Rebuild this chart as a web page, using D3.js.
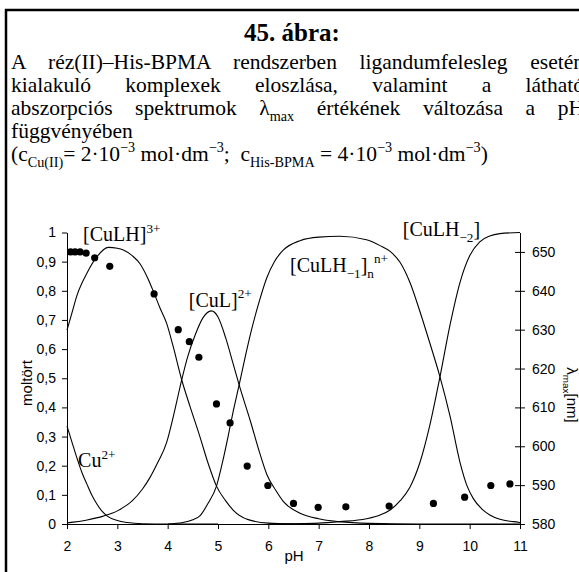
<!DOCTYPE html>
<html>
<head>
<meta charset="utf-8">
<script src="https://cdn.jsdelivr.net/npm/d3@7"></script>
<style>
  body { margin: 0; background: #fff; }
  svg { display: block; }
  text { white-space: pre; }
</style>
</head>
<body>
<svg id="chart" width="579" height="572"></svg>
<script>
// ---- axis ticks ----
const phTicks = [2, 3, 4, 5, 6, 7, 8, 9, 10, 11];
const fracTicks = [0, 0.1, 0.2, 0.3, 0.4, 0.5, 0.6, 0.7, 0.8, 0.9, 1];
const lambdaTicks = [580, 590, 600, 610, 620, 630, 640, 650];

// ---- species distribution (mole fraction vs pH) ----
const cuFreePH   = [2.0, 2.1, 2.2, 2.3, 2.4, 2.5, 2.6, 2.7, 2.8, 3.0, 3.2, 3.5, 4.0, 5.0];
const cuFreeFrac = [0.336, 0.28, 0.225, 0.175, 0.135, 0.097, 0.067, 0.043, 0.027, 0.012, 0.005, 0.001, 0, 0];

const cuLHPH   = [2.0, 2.1, 2.2, 2.4, 2.6, 2.82, 3.0, 3.12, 3.3, 3.45, 3.6, 3.73, 3.85, 3.98, 4.1, 4.28, 4.45, 4.64, 4.8, 4.97, 5.15, 5.3, 5.6, 6.0, 6.5];
const cuLHFrac = [0.665, 0.725, 0.785, 0.862, 0.918, 0.949, 0.946, 0.94, 0.92, 0.893, 0.845, 0.792, 0.74, 0.688, 0.615, 0.494, 0.4, 0.3, 0.21, 0.13, 0.08, 0.048, 0.015, 0.003, 0];

const cuLPH   = [2.0, 2.4, 2.72, 3.0, 3.3, 3.5, 3.65, 3.8, 3.98, 4.1, 4.18, 4.28, 4.4, 4.55, 4.7, 4.87, 5.0, 5.15, 5.3, 5.42, 5.64, 5.83, 5.97, 6.15, 6.3, 6.63, 7.0, 7.4, 8.0, 9.0, 11.0];
const cuLFrac = [0.004, 0.014, 0.027, 0.045, 0.08, 0.12, 0.16, 0.21, 0.28, 0.36, 0.42, 0.495, 0.575, 0.65, 0.707, 0.731, 0.71, 0.64, 0.55, 0.477, 0.355, 0.243, 0.17, 0.115, 0.077, 0.037, 0.018, 0.008, 0.002, 0, 0];

const cuLHm1PH   = [4.0, 4.3, 4.5, 4.65, 4.8, 4.97, 5.1, 5.2, 5.3, 5.42, 5.53, 5.64, 5.83, 5.97, 6.12, 6.3, 6.63, 7.0, 7.42, 7.95, 8.22, 8.42, 8.62, 8.81, 9.01, 9.21, 9.41, 9.61, 9.81, 9.95, 10.07, 10.25, 10.4, 10.6, 10.87, 11.0];
const cuLHm1Frac = [0, 0.005, 0.015, 0.03, 0.07, 0.13, 0.22, 0.3, 0.385, 0.477, 0.565, 0.648, 0.77, 0.845, 0.9, 0.94, 0.972, 0.984, 0.987, 0.975, 0.955, 0.935, 0.897, 0.83, 0.73, 0.62, 0.505, 0.37, 0.21, 0.13, 0.088, 0.05, 0.031, 0.016, 0.008, 0.005];

const cuLHm2PH   = [6.0, 7.0, 7.42, 7.95, 8.21, 8.42, 8.62, 8.81, 9.01, 9.21, 9.41, 9.61, 9.81, 10.0, 10.2, 10.4, 10.6, 11.0];
const cuLHm2Frac = [0, 0.003, 0.008, 0.018, 0.03, 0.048, 0.08, 0.125, 0.21, 0.34, 0.505, 0.683, 0.83, 0.92, 0.968, 0.988, 0.996, 1.0];

// ---- measured absorption maxima (nm) ----
const lambdaPH = [2.07, 2.16, 2.26, 2.38, 2.55, 2.85, 3.73, 4.21, 4.43, 4.62, 4.97, 5.24, 5.58, 5.99, 6.50, 6.99, 7.54, 8.40, 9.28, 9.90, 10.42, 10.80];
const lambdaNM = [650.0, 650.0, 650.0, 649.7, 648.5, 646.3, 639.2, 630.0, 626.9, 622.9, 610.9, 606.0, 594.9, 589.9, 585.3, 584.3, 584.4, 584.6, 585.3, 586.9, 589.9, 590.3];

const SERIF = "'Liberation Serif', 'Times New Roman', serif";
const SANS = "'Liberation Sans', Arial, sans-serif";

const svg = d3.select('#chart');

// outer frame (extends past the right/bottom edge)
svg.append('rect')
  .attr('x', 6).attr('y', 10).attr('width', 700).attr('height', 700)
  .attr('fill', 'none').attr('stroke', '#000').attr('stroke-width', 2.5);

// rich text helper: parts = [{t, sub, sup}]
function rich(parent, x, y, parts, size, family, weight) {
  const t = parent.append('text')
    .attr('x', x).attr('y', y)
    .attr('font-size', size).attr('font-family', family)
    .attr('font-weight', weight || 'normal').attr('fill', '#000');
  let shift = 0;
  parts.forEach(p => {
    const target = p.sub ? size * 0.3 : (p.sup ? -size * 0.42 : 0);
    t.append('tspan')
      .attr('dy', target - shift)
      .attr('font-size', (p.sub || p.sup) ? size * 0.66 : size)
      .text(p.t);
    shift = target;
  });
  return t;
}

function justify(textSel, x0, x1) {
  const w = textSel.node().getComputedTextLength();
  const n = (textSel.text().match(/ /g) || []).length;
  if (n > 0) textSel.attr('word-spacing', (x1 - x0 - w) / n);
}

// ---- caption ----
const cap = svg.append('g');
cap.append('text')
  .attr('x', 292).attr('y', 41).attr('text-anchor', 'middle')
  .attr('font-family', SERIF).attr('font-size', 25).attr('font-weight', 'bold')
  .text('45. ábra:');

const BODY = 21.5, LEFT = 11, RIGHT = 584;
const l2 = rich(cap, LEFT, 69, [{t: 'A réz(II)–His-BPMA rendszerben ligandumfelesleg esetén'}], BODY, SERIF);
justify(l2, LEFT, RIGHT);
const l3 = rich(cap, LEFT, 92, [{t: 'kialakuló komplexek eloszlása, valamint a látható'}], BODY, SERIF);
justify(l3, LEFT, RIGHT);
const l4 = rich(cap, LEFT, 115, [
  {t: 'abszorpciós spektrumok λ'}, {t: 'max', sub: true}, {t: ' értékének változása a pH'}
], BODY, SERIF);
justify(l4, LEFT, RIGHT);
rich(cap, LEFT, 138, [{t: 'függvényében'}], BODY, SERIF);
rich(cap, LEFT, 161, [
  {t: '(c'}, {t: 'Cu(II)', sub: true}, {t: '= 2·10'}, {t: '−3', sup: true},
  {t: ' mol·dm'}, {t: '−3', sup: true}, {t: ';  c'}, {t: 'His-BPMA', sub: true},
  {t: ' = 4·10'}, {t: '−3', sup: true}, {t: ' mol·dm'}, {t: '−3', sup: true}, {t: ')'}
], BODY, SERIF);

// ---- scales ----
const x = d3.scaleLinear().domain([2, 11]).range([67, 520]);
const yL = d3.scaleLinear().domain([0, 1]).range([524, 232.5]);
const yR = d3.scaleLinear().domain([580, 655]).range([524, 232.5]);

const fmtFrac = d => (d === 0 || d === 1) ? String(d) : d3.format('.1f')(d).replace('.', ',');

// ---- axes ----
const gL = svg.append('g').attr('transform', `translate(${x(2)},0)`)
  .call(d3.axisLeft(yL).tickValues(fracTicks).tickFormat(fmtFrac).tickSize(5).tickSizeOuter(0).tickPadding(6));
const gB = svg.append('g').attr('transform', `translate(0,${yL(0)})`)
  .call(d3.axisBottom(x).tickValues(phTicks).tickFormat(d3.format('d')).tickSize(5).tickSizeOuter(0).tickPadding(12));
const gR = svg.append('g').attr('transform', `translate(${x(11)},0)`)
  .call(d3.axisRight(yR).tickValues(lambdaTicks).tickSize(5).tickSizeOuter(0).tickPadding(7));
gR.selectAll('.tick line').attr('x1', -5);

[gL, gB, gR].forEach(g => {
  g.selectAll('path.domain').attr('stroke', '#000').attr('stroke-width', 1);
  g.selectAll('.tick line').attr('stroke', '#000').attr('stroke-width', 1);
  g.selectAll('.tick text').attr('font-family', SANS).attr('font-size', 14).attr('fill', '#000');
});

// axis titles
svg.append('text')
  .attr('transform', 'translate(32,383) rotate(-90)')
  .attr('text-anchor', 'middle').attr('font-family', SANS).attr('font-size', 15)
  .text('moltört');
svg.append('text')
  .attr('x', 294).attr('y', 561).attr('text-anchor', 'middle')
  .attr('font-family', SANS).attr('font-size', 15)
  .text('pH');
const rl = svg.append('g').attr('transform', 'translate(567,395) rotate(90)');
rich(rl, 0, 0, [{t: 'λ'}, {t: 'max', sub: true}, {t: '[nm]'}], 15, SANS).attr('text-anchor', 'middle');

// ---- distribution curves ----
const line = d3.line().x(d => x(d[0])).y(d => yL(d[1])).curve(d3.curveMonotoneX);
const species = [
  [cuFreePH, cuFreeFrac],
  [cuLHPH, cuLHFrac],
  [cuLPH, cuLFrac],
  [cuLHm1PH, cuLHm1Frac],
  [cuLHm2PH, cuLHm2Frac]
];
svg.append('g').selectAll('path').data(species).join('path')
  .attr('d', s => line(d3.zip(s[0], s[1])))
  .attr('fill', 'none').attr('stroke', '#000').attr('stroke-width', 1.1);

// ---- λmax points ----
svg.append('g').selectAll('circle').data(d3.zip(lambdaPH, lambdaNM)).join('circle')
  .attr('cx', d => x(d[0])).attr('cy', d => yR(d[1])).attr('r', 3.6).attr('fill', '#000');

// ---- species labels ----
const LBL = 20;
rich(svg, x(2.32), yL(0.97), [{t: '[CuLH]'}, {t: '3+', sup: true}], LBL, SERIF);
rich(svg, x(4.42), yL(0.745), [{t: '[CuL]'}, {t: '2+', sup: true}], LBL, SERIF);
rich(svg, x(6.43), yL(0.865), [{t: '[CuLH'}, {t: '−1', sub: true}, {t: ']'}, {t: 'n', sub: true}, {t: 'n+', sup: true}], LBL, SERIF);
rich(svg, x(8.67), yL(0.988), [{t: '[CuLH'}, {t: '−2', sub: true}, {t: ']'}], LBL, SERIF);
rich(svg, x(2.22), yL(0.195), [{t: 'Cu'}, {t: '2+', sup: true}], LBL, SERIF);
</script>
</body>
</html>
